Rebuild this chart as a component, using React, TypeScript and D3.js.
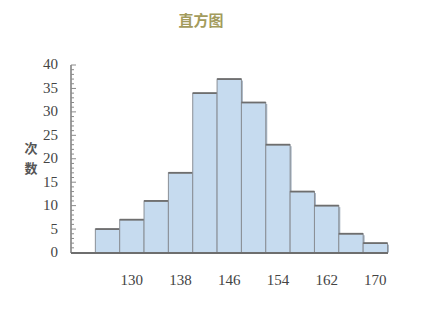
import React from "react";
import * as d3 from "d3";

const binStarts = [124, 128, 132, 136, 140, 144, 148, 152, 156, 160, 164, 168];
const counts = [5, 7, 11, 17, 34, 37, 32, 23, 13, 10, 4, 2];
const xTickValues = [130, 138, 146, 154, 162, 170];
const yTickValues = [0, 5, 10, 15, 20, 25, 30, 35, 40];
const binWidth = 4;
const title = "直方图";
const yLabel = ["次", "数"];

export default function App() {
  const W = 426, H = 320;
  const x = d3.scaleLinear().domain([120, 172]).range([71, 387.5]);
  const y = d3.scaleLinear().domain([0, 40]).range([252.5, 65]);
  const minor = d3.range(0, 41, 1);
  const serif = "'Liberation Serif', 'DejaVu Serif', serif";
  const cjk = "'Noto Sans CJK SC', sans-serif";
  return (
    <svg width={W} height={H} style={{ position: "absolute", left: 0, top: 0, background: "#fff" }}>
      <text x={201} y={26} textAnchor="middle" fontFamily={cjk} fontWeight="bold" fontSize={15} fill="#a39b5c">{title}</text>
      {yLabel.map((c, i) => (
        <text key={c} x={31} y={153 + i * 20} textAnchor="middle" fontFamily={cjk} fontWeight="bold" fontSize={13} fill="#555">{c}</text>
      ))}
      {/* bars */}
      {binStarts.map((s, i) => {
        const x0 = x(s), x1 = x(s + binWidth), yt = y(counts[i]), yb = y(0);
        return (
          <g key={s}>
            <rect x={x0 + 1.5} y={yt + 1.5} width={x1 - x0} height={yb - yt - 1.5} fill="#a7b4c2" />
            <rect x={x0} y={yt} width={x1 - x0} height={yb - yt} fill="#c6dbef" stroke="#8a8f96" strokeWidth={1} />
            <line x1={x0} x2={x1} y1={yt} y2={yt} stroke="#6e6e6e" strokeWidth={1.8} />
          </g>
        );
      })}
      {/* y axis */}
      <line x1={71} x2={71} y1={65} y2={253} stroke="#7a7a7a" strokeWidth={1.5} />
      {minor.map((v) => (
        <line key={v} x1={71} x2={v % 5 === 0 ? 76 : 74} y1={y(v)} y2={y(v)} stroke="#8a8a8a" strokeWidth={1} />
      ))}
      {yTickValues.map((v) => (
        <text key={v} x={58} y={y(v) + 1} textAnchor="end" dominantBaseline="middle" fontFamily={serif} fontSize={15} fill="#444">{v}</text>
      ))}
      {/* x axis */}
      <line x1={71} x2={388} y1={253} y2={253} stroke="#6e6e6e" strokeWidth={2} />
      {xTickValues.map((v) => (
        <text key={v} x={x(v)} y={285} textAnchor="middle" fontFamily={serif} fontSize={15} fill="#444">{v}</text>
      ))}
    </svg>
  );
}
